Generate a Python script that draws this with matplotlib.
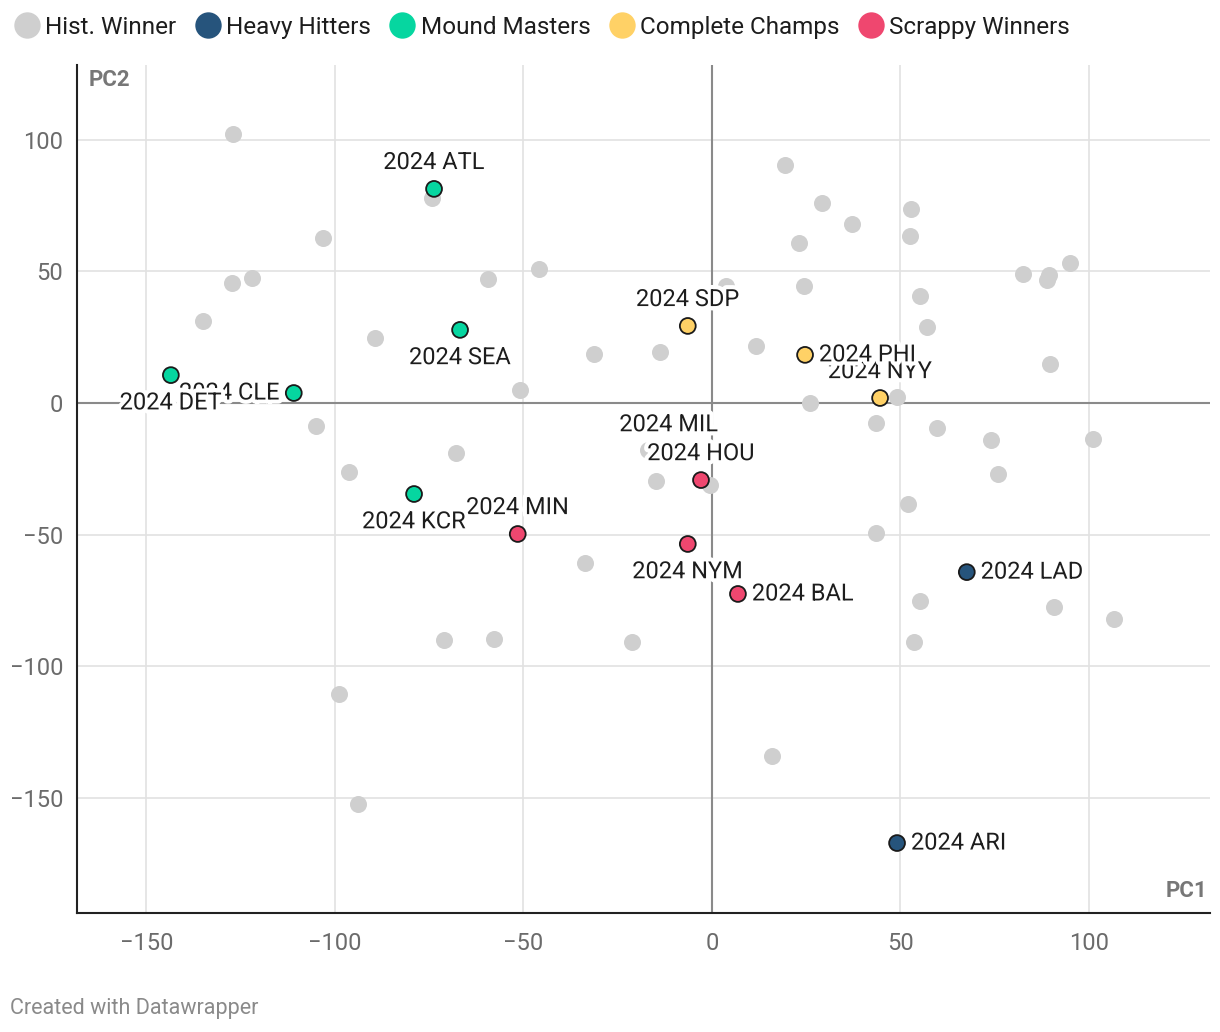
#PCA scatter of champions
import matplotlib.pyplot as plt
import matplotlib.patheffects as pe
from matplotlib.lines import Line2D

plt.rcParams['font.family'] = ['Roboto', 'DejaVu Sans']

#Historic winners (grey)
hist_x = [-127.1, -74.3, -103.2, -127.3, -122.0, -135.0, -89.4, -59.4, -45.9, -31.3,
          -13.8, -50.9, -105.0, -96.3, -67.9, -14.9, -0.5, -17.0, -33.7, -71.1,
          -57.8, -21.2, -98.9, -93.9, 15.9, 19.4, 29.2, 37.1, 23.1, 52.8,
          52.5, 3.7, 24.4, 55.2, 57.0, 11.7, 82.5, 89.4, 88.9, 95.0,
          89.7, 26.0, 49.1, 43.5, 59.7, 74.0, 75.9, 101.1, 52.0, 43.5,
          55.2, 53.6, 90.7, 106.6]
hist_y = [102.3, 77.9, 62.7, 45.6, 47.5, 31.2, 24.7, 47.1, 51.0, 18.6,
          19.4, 4.9, -8.7, -26.2, -19.0, -29.7, -31.2, -17.9, -60.8, -90.1,
          -89.7, -90.9, -110.6, -152.5, -134.2, 90.5, 76.0, 68.1, 60.8, 73.8,
          63.5, 44.5, 44.5, 40.7, 28.9, 21.7, 49.0, 48.7, 46.8, 53.2,
          14.8, 0.0, 2.3, -7.6, -9.5, -14.1, -27.0, -13.7, -38.4, -49.4,
          -75.3, -90.9, -77.6, -82.1]

#2024 teams
teams = ['ATL', 'SEA', 'CLE', 'DET', 'SDP', 'NYY', 'PHI', 'MIL', 'HOU',
         'MIN', 'KCR', 'NYM', 'BAL', 'LAD', 'ARI']
team_x = [-73.7, -66.8, -110.9, -143.5, -6.4, 44.6, 24.7, -11.4, -2.9,
          -51.5, -79.0, -6.4, 6.9, 67.6, 49.1]
team_y = [81.4, 27.8, 3.8, 10.6, 29.3, 1.9, 18.3, -18.3, -29.3,
          -49.8, -34.6, -53.6, -72.6, -64.3, -167.3]
team_group = ['Mound Masters', 'Mound Masters', 'Mound Masters', 'Mound Masters',
              'Complete Champs', 'Complete Champs', 'Complete Champs', 'Mound Masters',
              'Scrappy Winners', 'Scrappy Winners', 'Mound Masters', 'Scrappy Winners',
              'Scrappy Winners', 'Heavy Hitters', 'Heavy Hitters']
label_pos = ['top', 'bottom', 'left', 'bottom', 'top', 'top', 'right', 'top', 'top',
             'top', 'bottom', 'bottom', 'right', 'right', 'right']

groups = ['Hist. Winner', 'Heavy Hitters', 'Mound Masters', 'Complete Champs', 'Scrappy Winners']
colors = {'Hist. Winner': '#cfcfcf', 'Heavy Hitters': '#26547c', 'Mound Masters': '#06d6a0',
          'Complete Champs': '#ffd166', 'Scrappy Winners': '#ef476f'}

fig = plt.figure(figsize=(12.2, 10.32), dpi=100)
ax = fig.add_axes([0.0631, 0.1153, 0.9287, 0.8217])

ax.set_xlim(-168.4, 132.1)
ax.set_ylim(-193.9, 128.5)
ax.set_xticks([-150, -100, -50, 0, 50, 100])
ax.set_yticks([-150, -100, -50, 0, 50, 100])
ax.set_xticklabels(['\u2212150', '\u2212100', '\u221250', '0', '50', '100'])
ax.set_yticklabels(['\u2212150', '\u2212100', '\u221250', '0', '50', '100'])
ax.grid(True, color='#e2e2e2', linewidth=1.2, zorder=0)
ax.set_axisbelow(True)
ax.axvline(0, color='#8a8a8a', linewidth=1.5, zorder=1)
ax.axhline(0, color='#8a8a8a', linewidth=1.5, zorder=1)
for s in ['top', 'right']:
    ax.spines[s].set_visible(False)
for s in ['left', 'bottom']:
    ax.spines[s].set_color('#222222')
    ax.spines[s].set_linewidth(1.5)
ax.tick_params(length=0, labelsize=17, colors='#6b6b6b')
ax.tick_params(axis='x', pad=14)
ax.tick_params(axis='y', pad=10)

ax.scatter(hist_x, hist_y, s=150, color=colors['Hist. Winner'], linewidths=0, zorder=2)
ax.scatter(team_x, team_y, s=130, c=[colors[g] for g in team_group],
           edgecolors='#1a1a1a', linewidths=1.3, zorder=3)

offs = {'top': (0, 19, 'center', 'center'), 'bottom': (0, -20, 'center', 'center'),
        'left': (-10, 0, 'right', 'center'), 'right': (10, 0, 'left', 'center')}
halo = [pe.withStroke(linewidth=6, foreground='white')]
for t, x, y, p in zip(teams, team_x, team_y, label_pos):
    dx, dy, ha, va = offs[p]
    ax.annotate('2024 ' + t, (x, y), xytext=(dx, dy), textcoords='offset points',
                ha=ha, va=va, fontsize=17, color='#1d1d1d', path_effects=halo, zorder=4)

ax.text(0.01, 0.995, 'PC2', transform=ax.transAxes, fontsize=16, fontweight='bold',
        color='#777777', ha='left', va='top')
ax.text(0.998, 0.013, 'PC1', transform=ax.transAxes, fontsize=16, fontweight='bold',
        color='#777777', ha='right', va='bottom')

handles = [Line2D([], [], marker='o', linestyle='', markersize=19, markerfacecolor=colors[g],
                  markeredgewidth=0) for g in groups]
fig.legend(handles, groups, loc='upper left', bbox_to_anchor=(-0.009, 1.006), ncol=5,
           frameon=False, fontsize=17.5, handletextpad=0.1, columnspacing=0.65,
           handlelength=1.3, labelcolor='#1d1d1d')

fig.text(0.008, 0.017, 'Created with Datawrapper', fontsize=15.5, color='#8a8a8a')

plt.savefig('out.png', dpi=100)
